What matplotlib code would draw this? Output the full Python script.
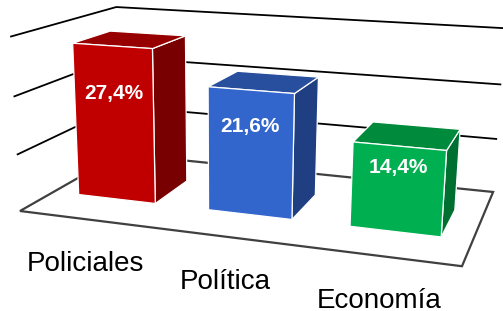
import numpy as np
import matplotlib.pyplot as plt
from matplotlib.patches import Polygon

plt.rcParams['font.family'] = ['Liberation Sans', 'DejaVu Sans']

# datos
categorias = ['Policiales', 'Política', 'Economía']
valores = [27.4, 21.6, 14.4]
etiquetas = ['27,4%', '21,6%', '14,4%']
niveles = [10, 20, 30]

col_frente = ['#C00000', '#3366CC', '#00B050']
col_arriba = ['#960000', '#284F9E', '#008A3C']
col_lado = ['#780000', '#203F82', '#007030']

# proyección en perspectiva (3 puntos de fuga), salida en píxeles
O = np.array([20.0, 211.0])
VX = np.array([-2950.0, -160.0])
VD = np.array([631.0, -137.0])
VZ = np.array([221.0, 3775.0])
kx, kd, kz = -0.04318, 0.1964, -0.001554


def proy(x, d, z):
    a, b, c = kx * x, kd * d, kz * z
    w = 1 + a + b + c
    p = (O + a * VX + b * VD + c * VZ) / w
    return p[0], p[1]


fig = plt.figure(figsize=(5.03, 3.11), dpi=100)
ax = fig.add_axes([0, 0, 1, 1])
ax.set_xlim(0, 503)
ax.set_ylim(311, 0)
ax.axis('off')

n = len(categorias)

# piso
piso = [proy(0, 0, 0), proy(n, 0, 0), proy(n, 1, 0), proy(0, 1, 0)]
ax.add_patch(Polygon(piso, closed=True, facecolor='white', edgecolor='#404040',
                     lw=1.6, zorder=1))

# líneas de división (pared izquierda y fondo)
for z in niveles:
    pts = np.array([proy(0, 0, z), proy(0, 1, z), proy(n, 1, z)])
    ax.plot(pts[:, 0], pts[:, 1], color='black', lw=1.3, zorder=2,
            solid_capstyle='butt')

# barras
d0, d1 = 0.3, 0.67
for i, v in enumerate(valores):
    x0, x1 = i + 0.2, i + 0.8
    frente = [proy(x0, d0, 0), proy(x1, d0, 0), proy(x1, d0, v), proy(x0, d0, v)]
    arriba = [proy(x0, d0, v), proy(x1, d0, v), proy(x1, d1, v), proy(x0, d1, v)]
    lado = [proy(x1, d0, 0), proy(x1, d1, 0), proy(x1, d1, v), proy(x1, d0, v)]
    for caras, col in ((lado, col_lado[i]), (arriba, col_arriba[i]),
                       (frente, col_frente[i])):
        ax.add_patch(Polygon(caras, closed=True, facecolor=col,
                             edgecolor='white', lw=0.9, zorder=3 + i))
    tx, ty = proy(i + 0.5, d0, 0.64 * v + 1.6)
    ax.text(tx, ty, etiquetas[i], color='white', fontsize=15, fontweight='bold',
            ha='center', va='center', zorder=10)

# etiquetas de categoría
for i, cat in enumerate(categorias):
    lx, ly = proy(i + 0.5, 0, 0)
    ax.text(lx, ly + 52, cat, fontsize=20, ha='center', va='baseline',
            color='black', zorder=10)

fig.savefig('out.png', dpi=100)
